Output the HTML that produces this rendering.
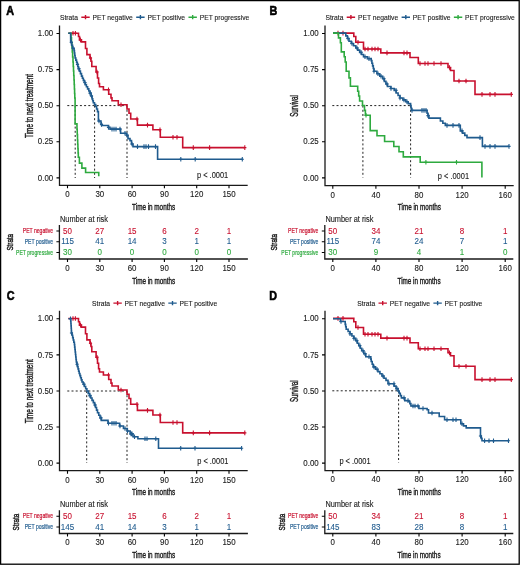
<!DOCTYPE html><html><head><meta charset="utf-8"><style>html,body{margin:0;padding:0;background:#fff}svg{display:block;will-change:transform}text{font-family:"Liberation Sans",sans-serif}</style></head><body>
<svg width="520" height="565" viewBox="0 0 520 565">
<rect x="0" y="0" width="520" height="565" fill="#fff"/>
<text x="0" y="0" font-size="10.8" text-anchor="middle" fill="#000" font-weight="bold" stroke="#000" stroke-width="0.5" transform="translate(10.2 10.75) scale(1 1.13)" dominant-baseline="central">A</text>
<text x="0" y="0" font-size="10.8" text-anchor="middle" fill="#000" font-weight="bold" stroke="#000" stroke-width="0.5" transform="translate(273.5 10.65) scale(1 1.13)" dominant-baseline="central">B</text>
<text x="0" y="0" font-size="10.8" text-anchor="middle" fill="#000" font-weight="bold" stroke="#000" stroke-width="0.5" transform="translate(10.75 295.75) scale(1 1.13)" dominant-baseline="central">C</text>
<text x="0" y="0" font-size="10.8" text-anchor="middle" fill="#000" font-weight="bold" stroke="#000" stroke-width="0.5" transform="translate(273.25 295.75) scale(1 1.13)" dominant-baseline="central">D</text>
<path d="M67.3,105.6H127M75.2,105.6V178M94.6,105.6V178M127,105.6V178" fill="none" stroke="#222" stroke-width="1" stroke-dasharray="2,2.2"/>
<path d="M59.5,25.5V185.3H247.7" fill="none" stroke="#1a1a1a" stroke-width="1.3"/>
<text x="0" y="0" font-size="7.9" text-anchor="end" fill="#1a1a1a" font-weight="normal" stroke="#1a1a1a" stroke-width="0.1" transform="translate(53.2 33.0) scale(1 1.13)" dominant-baseline="central">1.00</text>
<text x="0" y="0" font-size="7.9" text-anchor="end" fill="#1a1a1a" font-weight="normal" stroke="#1a1a1a" stroke-width="0.1" transform="translate(53.2 69.1) scale(1 1.13)" dominant-baseline="central">0.75</text>
<text x="0" y="0" font-size="7.9" text-anchor="end" fill="#1a1a1a" font-weight="normal" stroke="#1a1a1a" stroke-width="0.1" transform="translate(53.2 105.2) scale(1 1.13)" dominant-baseline="central">0.50</text>
<text x="0" y="0" font-size="7.9" text-anchor="end" fill="#1a1a1a" font-weight="normal" stroke="#1a1a1a" stroke-width="0.1" transform="translate(53.2 141.3) scale(1 1.13)" dominant-baseline="central">0.25</text>
<text x="0" y="0" font-size="7.9" text-anchor="end" fill="#1a1a1a" font-weight="normal" stroke="#1a1a1a" stroke-width="0.1" transform="translate(53.2 177.4) scale(1 1.13)" dominant-baseline="central">0.00</text>
<text x="0" y="0" font-size="7.9" text-anchor="middle" fill="#1a1a1a" font-weight="normal" stroke="#1a1a1a" stroke-width="0.1" transform="translate(67.5 194.0) scale(1 1.13)" dominant-baseline="central">0</text>
<text x="0" y="0" font-size="7.9" text-anchor="middle" fill="#1a1a1a" font-weight="normal" stroke="#1a1a1a" stroke-width="0.1" transform="translate(99.8 194.0) scale(1 1.13)" dominant-baseline="central">30</text>
<text x="0" y="0" font-size="7.9" text-anchor="middle" fill="#1a1a1a" font-weight="normal" stroke="#1a1a1a" stroke-width="0.1" transform="translate(132.1 194.0) scale(1 1.13)" dominant-baseline="central">60</text>
<text x="0" y="0" font-size="7.9" text-anchor="middle" fill="#1a1a1a" font-weight="normal" stroke="#1a1a1a" stroke-width="0.1" transform="translate(164.4 194.0) scale(1 1.13)" dominant-baseline="central">90</text>
<text x="0" y="0" font-size="7.9" text-anchor="middle" fill="#1a1a1a" font-weight="normal" stroke="#1a1a1a" stroke-width="0.1" transform="translate(196.7 194.0) scale(1 1.13)" dominant-baseline="central">120</text>
<text x="0" y="0" font-size="7.9" text-anchor="middle" fill="#1a1a1a" font-weight="normal" stroke="#1a1a1a" stroke-width="0.1" transform="translate(229.0 194.0) scale(1 1.13)" dominant-baseline="central">150</text>
<path d="M56.5,33.5H59.5M56.5,69.6H59.5M56.5,105.7H59.5M56.5,141.8H59.5M56.5,177.9H59.5M67.50,185.3v3M99.80,185.3v3M132.10,185.3v3M164.40,185.3v3M196.70,185.3v3M229.00,185.3v3" fill="none" stroke="#000" stroke-width="1.1"/>
<text x="153.6" y="206" font-size="9.5" text-anchor="middle" fill="#1a1a1a" font-weight="normal" stroke="#1a1a1a" stroke-width="0.4" textLength="43" lengthAdjust="spacingAndGlyphs" dominant-baseline="central">Time in months</text>
<text x="29.0" y="106" font-size="10.2" text-anchor="middle" fill="#1a1a1a" font-weight="normal" stroke="#1a1a1a" stroke-width="0.4" textLength="64" lengthAdjust="spacingAndGlyphs" transform="rotate(-90 29.0 106)" dominant-baseline="central">Time to next treatment</text>
<text x="0" y="0" font-size="6.75" text-anchor="start" fill="#1a1a1a" font-weight="normal" stroke="#1a1a1a" stroke-width="0.1" transform="translate(60 17.2) scale(1 1.13)" dominant-baseline="central">Strata</text>
<path d="M81.31,17.2h8.4M85.51,15.1v4.2" stroke="#C8102E" stroke-width="1.4" fill="none"/>
<text x="0" y="0" font-size="6.75" text-anchor="start" fill="#1a1a1a" font-weight="normal" stroke="#1a1a1a" stroke-width="0.1" transform="translate(92.51 17.2) scale(1 1.13)" dominant-baseline="central">PET negative</text>
<path d="M136.21,17.2h8.4M140.41,15.1v4.2" stroke="#1F5B8E" stroke-width="1.4" fill="none"/>
<text x="0" y="0" font-size="6.75" text-anchor="start" fill="#1a1a1a" font-weight="normal" stroke="#1a1a1a" stroke-width="0.1" transform="translate(147.41 17.2) scale(1 1.13)" dominant-baseline="central">PET positive</text>
<path d="M188.47,17.2h8.4M192.67,15.1v4.2" stroke="#2EAA3F" stroke-width="1.4" fill="none"/>
<text x="0" y="0" font-size="6.75" text-anchor="start" fill="#1a1a1a" font-weight="normal" stroke="#1a1a1a" stroke-width="0.1" transform="translate(199.67 17.2) scale(1 1.13)" dominant-baseline="central">PET progressive</text>
<path d="M68.30,33.30 L78.50,33.30 L78.50,36.50 L79.50,36.50 L79.50,39.90 L81.40,39.90 L81.40,41.90 L85.50,41.90 L85.50,48.50 L86.90,48.50 L86.90,54.60 L90.00,54.60 L90.00,58.00 L91.00,58.00 L91.00,61.20 L91.80,61.20 L91.80,66.50 L96.10,66.50 L96.10,72.00 L97.50,72.00 L97.50,78.00 L98.60,78.00 L98.60,83.50 L99.50,83.50 L99.50,86.80 L103.40,86.80 L103.40,89.70 L108.70,89.70 L108.70,94.20 L111.00,94.20 L111.00,97.90 L112.00,97.90 L112.00,100.80 L118.30,100.80 L118.30,104.80 L127.00,104.80 L127.00,109.00 L129.00,109.00 L129.00,113.20 L130.70,113.20 L130.70,119.00 L137.40,119.00 L137.40,125.10 L152.90,125.10 L152.90,129.80 L160.30,129.80 L160.30,137.20 L182.70,137.20 L182.70,147.60 L244.80,147.60" fill="none" stroke="#C8102E" stroke-width="1.6" stroke-linejoin="miter" stroke-miterlimit="2"/>
<path d="M73.00,31.00v4.6M71.40,33.30h3.2M75.40,31.00v4.6M73.80,33.30h3.2M80.50,37.60v4.6M78.90,39.90h3.2M90.50,55.70v4.6M88.90,58.00h3.2M97.00,69.70v4.6M95.40,72.00h3.2M108.50,87.40v4.6M106.90,89.70h3.2M121.00,102.50v4.6M119.40,104.80h3.2M137.00,116.70v4.6M135.40,119.00h3.2M147.50,122.80v4.6M145.90,125.10h3.2M160.00,127.50v4.6M158.40,129.80h3.2M173.00,134.90v4.6M171.40,137.20h3.2M177.00,134.90v4.6M175.40,137.20h3.2M193.30,145.30v4.6M191.70,147.60h3.2M209.60,145.30v4.6M208.00,147.60h3.2M244.80,145.30v4.6M243.20,147.60h3.2" fill="none" stroke="#C8102E" stroke-width="1.1"/>
<path d="M68.30,33.30 L70.60,33.30 L71.03,33.30 L71.03,37.87 L71.47,37.87 L71.47,42.43 L71.90,42.43 L71.90,47.00 L72.27,47.00 L72.27,52.00 L72.63,52.00 L72.63,57.00 L73.00,57.00 L73.00,62.00 L73.25,62.00 L73.25,66.50 L73.50,66.50 L73.50,71.00 L73.75,71.00 L73.75,75.50 L74.00,75.50 L74.00,80.00 L74.20,80.00 L74.20,84.50 L74.40,84.50 L74.40,89.00 L74.60,89.00 L74.60,93.50 L74.80,93.50 L74.80,98.00 L75.10,98.00 L75.10,105.00 L75.10,123.90 L76.70,123.90 L76.97,123.90 L76.97,129.27 L77.23,129.27 L77.23,134.63 L77.50,134.63 L77.50,140.00 L77.70,140.00 L77.70,144.32 L77.90,144.32 L77.90,148.65 L78.10,148.65 L78.10,152.98 L78.30,152.98 L78.30,157.30 L79.40,157.30 L79.40,163.10 L81.90,163.10 L81.90,168.10 L85.60,168.10 L85.60,172.50 L98.75,172.50 L98.75,172.50 L98.75,176.30" fill="none" stroke="#2EAA3F" stroke-width="1.6" stroke-linejoin="miter" stroke-miterlimit="2"/>
<path d="M68.30,33.30 L70.60,33.30 L70.62,33.30 L70.62,35.57 L70.65,35.57 L70.65,37.85 L70.67,37.85 L70.67,40.12 L70.70,40.12 L70.70,42.40 L71.65,42.40 L71.65,45.30 L72.60,45.30 L72.60,48.20 L74.10,48.20 L74.10,50.60 L74.43,50.60 L74.43,53.07 L74.77,53.07 L74.77,55.53 L75.10,55.53 L75.10,58.00 L75.83,58.00 L75.83,60.13 L76.57,60.13 L76.57,62.27 L77.30,62.27 L77.30,64.40 L77.80,64.40 L77.80,66.55 L78.30,66.55 L78.30,68.70 L79.37,68.70 L79.37,71.17 L80.43,71.17 L80.43,73.63 L81.50,73.63 L81.50,76.10 L82.42,76.10 L82.42,78.22 L83.35,78.22 L83.35,80.35 L84.28,80.35 L84.28,82.47 L85.20,82.47 L85.20,84.60 L86.40,84.60 L86.40,86.72 L87.60,86.72 L87.60,88.85 L88.80,88.85 L88.80,90.97 L90.00,90.97 L90.00,93.10 L91.05,93.10 L91.05,96.00 L92.10,96.00 L92.10,98.90 L92.70,98.90 L92.70,100.80 L93.30,100.80 L93.30,102.70 L94.50,102.70 L94.50,104.60 L95.70,104.60 L95.70,106.50 L96.60,106.50 L96.60,109.07 L97.50,109.07 L97.50,111.63 L98.40,111.63 L98.40,114.20 L98.40,121.00 L101.00,121.00 L101.00,124.40 L101.70,124.40 L101.70,125.50 L108.50,125.50 L108.50,127.40 L110.00,127.40 L110.00,129.10 L120.60,129.10 L120.60,133.20 L126.60,133.20 L126.60,135.20 L128.00,135.20 L128.00,138.60 L130.00,138.60 L130.00,140.60 L131.50,140.60 L131.50,144.00 L133.00,144.00 L133.00,146.60 L157.60,146.60 L157.60,159.30 L242.30,159.30" fill="none" stroke="#1F5B8E" stroke-width="1.6" stroke-linejoin="miter" stroke-miterlimit="2"/>
<path d="M71.40,40.10v4.6M69.80,42.40h3.2M73.00,45.90v4.6M71.40,48.20h3.2M77.50,62.10v4.6M75.90,64.40h3.2M79.00,66.40v4.6M77.40,68.70h3.2M85.00,80.17v4.6M83.40,82.47h3.2M90.00,90.80v4.6M88.40,93.10h3.2M91.50,93.70v4.6M89.90,96.00h3.2M99.00,118.70v4.6M97.40,121.00h3.2M101.50,122.10v4.6M99.90,124.40h3.2M108.50,125.10v4.6M106.90,127.40h3.2M112.00,126.80v4.6M110.40,129.10h3.2M114.00,126.80v4.6M112.40,129.10h3.2M116.00,126.80v4.6M114.40,129.10h3.2M120.00,126.80v4.6M118.40,129.10h3.2M125.00,130.90v4.6M123.40,133.20h3.2M127.00,132.90v4.6M125.40,135.20h3.2M132.00,141.70v4.6M130.40,144.00h3.2M137.50,144.30v4.6M135.90,146.60h3.2M144.00,144.30v4.6M142.40,146.60h3.2M146.00,144.30v4.6M144.40,146.60h3.2M148.50,144.30v4.6M146.90,146.60h3.2M155.50,144.30v4.6M153.90,146.60h3.2M180.80,157.00v4.6M179.20,159.30h3.2M195.20,157.00v4.6M193.60,159.30h3.2M242.30,157.00v4.6M240.70,159.30h3.2" fill="none" stroke="#1F5B8E" stroke-width="1.1"/>
<text x="0" y="0" font-size="7.45" text-anchor="middle" fill="#1a1a1a" font-weight="normal" stroke="#1a1a1a" stroke-width="0.1" transform="translate(212.6 175.8) scale(1 1.13)" dominant-baseline="central">p &lt; .0001</text>
<text x="0" y="0" font-size="7.4" text-anchor="start" fill="#1a1a1a" font-weight="normal" stroke="#1a1a1a" stroke-width="0.1" transform="translate(60.0 219.3) scale(1 1.13)" dominant-baseline="central">Number at risk</text>
<text x="53.1" y="230.7" font-size="7.7" text-anchor="end" fill="#C8102E" font-weight="normal" stroke="#C8102E" stroke-width="0.22" textLength="30.3" lengthAdjust="spacingAndGlyphs" dominant-baseline="central">PET negative</text>
<text x="0" y="0" font-size="8.0" text-anchor="middle" fill="#C8102E" font-weight="normal" stroke="#C8102E" stroke-width="0.1" transform="translate(67.5 230.5) scale(1 1.13)" dominant-baseline="central">50</text>
<text x="0" y="0" font-size="8.0" text-anchor="middle" fill="#C8102E" font-weight="normal" stroke="#C8102E" stroke-width="0.1" transform="translate(99.8 230.5) scale(1 1.13)" dominant-baseline="central">27</text>
<text x="0" y="0" font-size="8.0" text-anchor="middle" fill="#C8102E" font-weight="normal" stroke="#C8102E" stroke-width="0.1" transform="translate(132.1 230.5) scale(1 1.13)" dominant-baseline="central">15</text>
<text x="0" y="0" font-size="8.0" text-anchor="middle" fill="#C8102E" font-weight="normal" stroke="#C8102E" stroke-width="0.1" transform="translate(164.4 230.5) scale(1 1.13)" dominant-baseline="central">6</text>
<text x="0" y="0" font-size="8.0" text-anchor="middle" fill="#C8102E" font-weight="normal" stroke="#C8102E" stroke-width="0.1" transform="translate(196.7 230.5) scale(1 1.13)" dominant-baseline="central">2</text>
<text x="0" y="0" font-size="8.0" text-anchor="middle" fill="#C8102E" font-weight="normal" stroke="#C8102E" stroke-width="0.1" transform="translate(229.0 230.5) scale(1 1.13)" dominant-baseline="central">1</text>
<text x="53.1" y="241.45" font-size="7.7" text-anchor="end" fill="#1F5B8E" font-weight="normal" stroke="#1F5B8E" stroke-width="0.22" textLength="28.4" lengthAdjust="spacingAndGlyphs" dominant-baseline="central">PET positive</text>
<text x="0" y="0" font-size="8.0" text-anchor="middle" fill="#1F5B8E" font-weight="normal" stroke="#1F5B8E" stroke-width="0.1" transform="translate(67.5 241.25) scale(1 1.13)" dominant-baseline="central">115</text>
<text x="0" y="0" font-size="8.0" text-anchor="middle" fill="#1F5B8E" font-weight="normal" stroke="#1F5B8E" stroke-width="0.1" transform="translate(99.8 241.25) scale(1 1.13)" dominant-baseline="central">41</text>
<text x="0" y="0" font-size="8.0" text-anchor="middle" fill="#1F5B8E" font-weight="normal" stroke="#1F5B8E" stroke-width="0.1" transform="translate(132.1 241.25) scale(1 1.13)" dominant-baseline="central">14</text>
<text x="0" y="0" font-size="8.0" text-anchor="middle" fill="#1F5B8E" font-weight="normal" stroke="#1F5B8E" stroke-width="0.1" transform="translate(164.4 241.25) scale(1 1.13)" dominant-baseline="central">3</text>
<text x="0" y="0" font-size="8.0" text-anchor="middle" fill="#1F5B8E" font-weight="normal" stroke="#1F5B8E" stroke-width="0.1" transform="translate(196.7 241.25) scale(1 1.13)" dominant-baseline="central">1</text>
<text x="0" y="0" font-size="8.0" text-anchor="middle" fill="#1F5B8E" font-weight="normal" stroke="#1F5B8E" stroke-width="0.1" transform="translate(229.0 241.25) scale(1 1.13)" dominant-baseline="central">1</text>
<text x="53.1" y="252.2" font-size="7.7" text-anchor="end" fill="#2EAA3F" font-weight="normal" stroke="#2EAA3F" stroke-width="0.22" textLength="37" lengthAdjust="spacingAndGlyphs" dominant-baseline="central">PET progressive</text>
<text x="0" y="0" font-size="8.0" text-anchor="middle" fill="#2EAA3F" font-weight="normal" stroke="#2EAA3F" stroke-width="0.1" transform="translate(67.5 252.0) scale(1 1.13)" dominant-baseline="central">30</text>
<text x="0" y="0" font-size="8.0" text-anchor="middle" fill="#2EAA3F" font-weight="normal" stroke="#2EAA3F" stroke-width="0.1" transform="translate(99.8 252.0) scale(1 1.13)" dominant-baseline="central">0</text>
<text x="0" y="0" font-size="8.0" text-anchor="middle" fill="#2EAA3F" font-weight="normal" stroke="#2EAA3F" stroke-width="0.1" transform="translate(132.1 252.0) scale(1 1.13)" dominant-baseline="central">0</text>
<text x="0" y="0" font-size="8.0" text-anchor="middle" fill="#2EAA3F" font-weight="normal" stroke="#2EAA3F" stroke-width="0.1" transform="translate(164.4 252.0) scale(1 1.13)" dominant-baseline="central">0</text>
<text x="0" y="0" font-size="8.0" text-anchor="middle" fill="#2EAA3F" font-weight="normal" stroke="#2EAA3F" stroke-width="0.1" transform="translate(196.7 252.0) scale(1 1.13)" dominant-baseline="central">0</text>
<text x="0" y="0" font-size="8.0" text-anchor="middle" fill="#2EAA3F" font-weight="normal" stroke="#2EAA3F" stroke-width="0.1" transform="translate(229.0 252.0) scale(1 1.13)" dominant-baseline="central">0</text>
<text x="0" y="0" font-size="7.9" text-anchor="middle" fill="#1a1a1a" font-weight="normal" stroke="#1a1a1a" stroke-width="0.1" transform="translate(67.5 267.7) scale(1 1.13)" dominant-baseline="central">0</text>
<text x="0" y="0" font-size="7.9" text-anchor="middle" fill="#1a1a1a" font-weight="normal" stroke="#1a1a1a" stroke-width="0.1" transform="translate(99.8 267.7) scale(1 1.13)" dominant-baseline="central">30</text>
<text x="0" y="0" font-size="7.9" text-anchor="middle" fill="#1a1a1a" font-weight="normal" stroke="#1a1a1a" stroke-width="0.1" transform="translate(132.1 267.7) scale(1 1.13)" dominant-baseline="central">60</text>
<text x="0" y="0" font-size="7.9" text-anchor="middle" fill="#1a1a1a" font-weight="normal" stroke="#1a1a1a" stroke-width="0.1" transform="translate(164.4 267.7) scale(1 1.13)" dominant-baseline="central">90</text>
<text x="0" y="0" font-size="7.9" text-anchor="middle" fill="#1a1a1a" font-weight="normal" stroke="#1a1a1a" stroke-width="0.1" transform="translate(196.7 267.7) scale(1 1.13)" dominant-baseline="central">120</text>
<text x="0" y="0" font-size="7.9" text-anchor="middle" fill="#1a1a1a" font-weight="normal" stroke="#1a1a1a" stroke-width="0.1" transform="translate(229.0 267.7) scale(1 1.13)" dominant-baseline="central">150</text>
<path d="M59.4,224.9V259.0H247.9" fill="none" stroke="#1a1a1a" stroke-width="1.3"/>
<path d="M56.4,231.0H59.4M56.4,241.75H59.4M56.4,252.5H59.4M67.50,259.0v3M99.80,259.0v3M132.10,259.0v3M164.40,259.0v3M196.70,259.0v3M229.00,259.0v3" fill="none" stroke="#000" stroke-width="1.1"/>
<text x="153.65" y="280.0" font-size="9.5" text-anchor="middle" fill="#1a1a1a" font-weight="normal" stroke="#1a1a1a" stroke-width="0.4" textLength="43" lengthAdjust="spacingAndGlyphs" dominant-baseline="central">Time in months</text>
<text x="9.899999999999999" y="242.25" font-size="9.9" text-anchor="middle" fill="#1a1a1a" font-weight="normal" stroke="#1a1a1a" stroke-width="0.45" textLength="16.7" lengthAdjust="spacingAndGlyphs" transform="rotate(-90 9.899999999999999 242.25)" dominant-baseline="central">Strata</text>
<path d="M332.3,105.6H410.6M362.9,105.6V177.5M410.6,105.6V177.5" fill="none" stroke="#222" stroke-width="1" stroke-dasharray="2,2.2"/>
<path d="M325.0,25.5V185.7H513.7" fill="none" stroke="#1a1a1a" stroke-width="1.3"/>
<text x="0" y="0" font-size="7.9" text-anchor="end" fill="#1a1a1a" font-weight="normal" stroke="#1a1a1a" stroke-width="0.1" transform="translate(318.7 33.0) scale(1 1.13)" dominant-baseline="central">1.00</text>
<text x="0" y="0" font-size="7.9" text-anchor="end" fill="#1a1a1a" font-weight="normal" stroke="#1a1a1a" stroke-width="0.1" transform="translate(318.7 69.1) scale(1 1.13)" dominant-baseline="central">0.75</text>
<text x="0" y="0" font-size="7.9" text-anchor="end" fill="#1a1a1a" font-weight="normal" stroke="#1a1a1a" stroke-width="0.1" transform="translate(318.7 105.2) scale(1 1.13)" dominant-baseline="central">0.50</text>
<text x="0" y="0" font-size="7.9" text-anchor="end" fill="#1a1a1a" font-weight="normal" stroke="#1a1a1a" stroke-width="0.1" transform="translate(318.7 141.3) scale(1 1.13)" dominant-baseline="central">0.25</text>
<text x="0" y="0" font-size="7.9" text-anchor="end" fill="#1a1a1a" font-weight="normal" stroke="#1a1a1a" stroke-width="0.1" transform="translate(318.7 177.4) scale(1 1.13)" dominant-baseline="central">0.00</text>
<text x="0" y="0" font-size="7.9" text-anchor="middle" fill="#1a1a1a" font-weight="normal" stroke="#1a1a1a" stroke-width="0.1" transform="translate(332.8 194.39999999999998) scale(1 1.13)" dominant-baseline="central">0</text>
<text x="0" y="0" font-size="7.9" text-anchor="middle" fill="#1a1a1a" font-weight="normal" stroke="#1a1a1a" stroke-width="0.1" transform="translate(375.9 194.39999999999998) scale(1 1.13)" dominant-baseline="central">40</text>
<text x="0" y="0" font-size="7.9" text-anchor="middle" fill="#1a1a1a" font-weight="normal" stroke="#1a1a1a" stroke-width="0.1" transform="translate(419.0 194.39999999999998) scale(1 1.13)" dominant-baseline="central">80</text>
<text x="0" y="0" font-size="7.9" text-anchor="middle" fill="#1a1a1a" font-weight="normal" stroke="#1a1a1a" stroke-width="0.1" transform="translate(462.1 194.39999999999998) scale(1 1.13)" dominant-baseline="central">120</text>
<text x="0" y="0" font-size="7.9" text-anchor="middle" fill="#1a1a1a" font-weight="normal" stroke="#1a1a1a" stroke-width="0.1" transform="translate(505.2 194.39999999999998) scale(1 1.13)" dominant-baseline="central">160</text>
<path d="M322.0,33.5H325.0M322.0,69.6H325.0M322.0,105.7H325.0M322.0,141.8H325.0M322.0,177.9H325.0M332.80,185.7v3M375.90,185.7v3M419.00,185.7v3M462.10,185.7v3M505.20,185.7v3" fill="none" stroke="#000" stroke-width="1.1"/>
<text x="419.35" y="206" font-size="9.5" text-anchor="middle" fill="#1a1a1a" font-weight="normal" stroke="#1a1a1a" stroke-width="0.4" textLength="43" lengthAdjust="spacingAndGlyphs" dominant-baseline="central">Time in months</text>
<text x="294.5" y="106" font-size="10.2" text-anchor="middle" fill="#1a1a1a" font-weight="normal" stroke="#1a1a1a" stroke-width="0.4" textLength="21.7" lengthAdjust="spacingAndGlyphs" transform="rotate(-90 294.5 106)" dominant-baseline="central">Survival</text>
<text x="0" y="0" font-size="6.75" text-anchor="start" fill="#1a1a1a" font-weight="normal" stroke="#1a1a1a" stroke-width="0.1" transform="translate(325.4 17.2) scale(1 1.13)" dominant-baseline="central">Strata</text>
<path d="M346.71,17.2h8.4M350.91,15.1v4.2" stroke="#C8102E" stroke-width="1.4" fill="none"/>
<text x="0" y="0" font-size="6.75" text-anchor="start" fill="#1a1a1a" font-weight="normal" stroke="#1a1a1a" stroke-width="0.1" transform="translate(357.91 17.2) scale(1 1.13)" dominant-baseline="central">PET negative</text>
<path d="M401.61,17.2h8.4M405.81,15.1v4.2" stroke="#1F5B8E" stroke-width="1.4" fill="none"/>
<text x="0" y="0" font-size="6.75" text-anchor="start" fill="#1a1a1a" font-weight="normal" stroke="#1a1a1a" stroke-width="0.1" transform="translate(412.81 17.2) scale(1 1.13)" dominant-baseline="central">PET positive</text>
<path d="M453.87,17.2h8.4M458.07,15.1v4.2" stroke="#2EAA3F" stroke-width="1.4" fill="none"/>
<text x="0" y="0" font-size="6.75" text-anchor="start" fill="#1a1a1a" font-weight="normal" stroke="#1a1a1a" stroke-width="0.1" transform="translate(465.07 17.2) scale(1 1.13)" dominant-baseline="central">PET progressive</text>
<path d="M333.00,33.10 L353.80,33.10 L353.80,36.50 L355.80,36.50 L355.80,42.30 L363.50,42.30 L363.50,49.00 L380.80,49.00 L380.80,52.90 L410.00,52.90 L410.00,57.50 L418.30,57.50 L418.30,63.50 L448.00,63.50 L448.00,67.50 L450.50,67.50 L450.50,70.50 L454.00,70.50 L454.00,81.00 L475.00,81.00 L475.00,94.40 L511.30,94.40" fill="none" stroke="#C8102E" stroke-width="1.6" stroke-linejoin="miter" stroke-miterlimit="2"/>
<path d="M338.00,30.80v4.6M336.40,33.10h3.2M343.00,30.80v4.6M341.40,33.10h3.2M358.00,40.00v4.6M356.40,42.30h3.2M365.00,46.70v4.6M363.40,49.00h3.2M368.00,46.70v4.6M366.40,49.00h3.2M372.00,46.70v4.6M370.40,49.00h3.2M375.00,46.70v4.6M373.40,49.00h3.2M378.00,46.70v4.6M376.40,49.00h3.2M387.00,50.60v4.6M385.40,52.90h3.2M404.00,50.60v4.6M402.40,52.90h3.2M407.00,50.60v4.6M405.40,52.90h3.2M420.00,61.20v4.6M418.40,63.50h3.2M425.00,61.20v4.6M423.40,63.50h3.2M428.00,61.20v4.6M426.40,63.50h3.2M434.00,61.20v4.6M432.40,63.50h3.2M441.00,61.20v4.6M439.40,63.50h3.2M449.50,65.20v4.6M447.90,67.50h3.2M459.00,78.70v4.6M457.40,81.00h3.2M466.00,78.70v4.6M464.40,81.00h3.2M482.00,92.10v4.6M480.40,94.40h3.2M490.00,92.10v4.6M488.40,94.40h3.2M495.00,92.10v4.6M493.40,94.40h3.2M511.30,92.10v4.6M509.70,94.40h3.2" fill="none" stroke="#C8102E" stroke-width="1.1"/>
<path d="M333.00,33.10 L344.20,33.10 L345.80,33.10 L345.80,35.83 L347.40,35.83 L347.40,38.57 L349.00,38.57 L349.00,41.30 L351.27,41.30 L351.27,43.53 L353.53,43.53 L353.53,45.77 L355.80,45.77 L355.80,48.00 L357.73,48.00 L357.73,50.17 L359.65,50.17 L359.65,52.35 L361.57,52.35 L361.57,54.53 L363.50,54.53 L363.50,56.70 L367.35,56.70 L367.35,58.65 L371.20,58.65 L371.20,60.60 L371.90,60.60 L371.90,63.25 L372.60,63.25 L372.60,65.90 L373.30,65.90 L373.30,68.55 L374.00,68.55 L374.00,71.20 L376.90,71.20 L376.90,73.73 L379.80,73.73 L379.80,76.27 L382.70,76.27 L382.70,78.80 L384.30,78.80 L384.30,81.37 L385.90,81.37 L385.90,83.93 L387.50,83.93 L387.50,86.50 L390.85,86.50 L390.85,88.45 L394.20,88.45 L394.20,90.40 L396.13,90.40 L396.13,92.93 L398.07,92.93 L398.07,95.47 L400.00,95.47 L400.00,98.00 L402.90,98.00 L402.90,99.85 L405.80,99.85 L405.80,101.70 L408.20,101.70 L408.20,103.65 L410.60,103.65 L410.60,105.60 L411.05,105.60 L411.05,108.00 L411.50,108.00 L411.50,110.40 L427.10,110.40 L427.10,113.20 L428.00,113.20 L428.00,115.65 L428.90,115.65 L428.90,118.10 L440.40,118.10 L440.40,121.00 L442.85,121.00 L442.85,123.20 L445.30,123.20 L445.30,125.40 L460.30,125.40 L460.30,130.90 L462.53,130.90 L462.53,133.13 L464.77,133.13 L464.77,135.37 L467.00,135.37 L467.00,137.60 L482.40,137.60 L482.40,146.40 L509.00,146.40" fill="none" stroke="#1F5B8E" stroke-width="1.6" stroke-linejoin="miter" stroke-miterlimit="2"/>
<path d="M348.00,36.27v4.6M346.40,38.57h3.2M352.00,41.23v4.6M350.40,43.53h3.2M357.00,45.70v4.6M355.40,48.00h3.2M361.00,50.05v4.6M359.40,52.35h3.2M365.00,54.40v4.6M363.40,56.70h3.2M369.00,56.35v4.6M367.40,58.65h3.2M374.00,68.90v4.6M372.40,71.20h3.2M378.00,71.43v4.6M376.40,73.73h3.2M381.00,73.97v4.6M379.40,76.27h3.2M384.00,76.50v4.6M382.40,78.80h3.2M387.00,81.63v4.6M385.40,83.93h3.2M391.00,86.15v4.6M389.40,88.45h3.2M396.00,88.10v4.6M394.40,90.40h3.2M400.00,95.70v4.6M398.40,98.00h3.2M404.00,97.55v4.6M402.40,99.85h3.2M407.00,99.40v4.6M405.40,101.70h3.2M412.00,108.10v4.6M410.40,110.40h3.2M422.00,108.10v4.6M420.40,110.40h3.2M424.00,108.10v4.6M422.40,110.40h3.2M426.00,108.10v4.6M424.40,110.40h3.2M428.00,113.35v4.6M426.40,115.65h3.2M447.00,123.10v4.6M445.40,125.40h3.2M453.00,123.10v4.6M451.40,125.40h3.2M459.00,123.10v4.6M457.40,125.40h3.2M462.00,128.60v4.6M460.40,130.90h3.2M480.00,135.30v4.6M478.40,137.60h3.2M485.00,144.10v4.6M483.40,146.40h3.2M490.00,144.10v4.6M488.40,146.40h3.2M495.00,144.10v4.6M493.40,146.40h3.2M509.00,144.10v4.6M507.40,146.40h3.2" fill="none" stroke="#1F5B8E" stroke-width="1.1"/>
<path d="M333.00,33.10 L338.50,33.10 L338.50,37.90 L340.40,37.90 L340.40,42.70 L341.30,42.70 L341.30,51.90 L344.20,51.90 L344.20,56.70 L345.20,56.70 L345.20,62.00 L346.20,62.00 L346.20,71.20 L349.00,71.20 L349.00,77.90 L350.40,77.90 L350.40,86.20 L357.70,86.20 L357.70,91.30 L358.70,91.30 L358.70,96.00 L359.60,96.00 L359.60,101.00 L362.50,101.00 L362.50,105.50 L364.50,105.50 L364.50,110.40 L365.40,110.40 L365.40,115.20 L370.20,115.20 L370.20,130.60 L377.00,130.60 L377.00,135.80 L384.60,135.80 L384.60,141.50 L393.80,141.50 L393.80,146.50 L399.00,146.50 L399.00,151.70 L403.30,151.70 L403.30,156.90 L420.20,156.90 L420.20,162.30 L481.90,162.30 L481.90,177.50" fill="none" stroke="#2EAA3F" stroke-width="1.6" stroke-linejoin="miter" stroke-miterlimit="2"/>
<path d="M366.00,112.90v4.6M364.40,115.20h3.2M425.90,160.00v4.6M424.30,162.30h3.2M456.50,160.00v4.6M454.90,162.30h3.2" fill="none" stroke="#2EAA3F" stroke-width="1.1"/>
<text x="0" y="0" font-size="7.45" text-anchor="middle" fill="#1a1a1a" font-weight="normal" stroke="#1a1a1a" stroke-width="0.1" transform="translate(453.4 175.9) scale(1 1.13)" dominant-baseline="central">p &lt; .0001</text>
<text x="0" y="0" font-size="7.4" text-anchor="start" fill="#1a1a1a" font-weight="normal" stroke="#1a1a1a" stroke-width="0.1" transform="translate(325.40000000000003 219.3) scale(1 1.13)" dominant-baseline="central">Number at risk</text>
<text x="318.3" y="230.7" font-size="7.7" text-anchor="end" fill="#C8102E" font-weight="normal" stroke="#C8102E" stroke-width="0.22" textLength="30.3" lengthAdjust="spacingAndGlyphs" dominant-baseline="central">PET negative</text>
<text x="0" y="0" font-size="8.0" text-anchor="middle" fill="#C8102E" font-weight="normal" stroke="#C8102E" stroke-width="0.1" transform="translate(332.8 230.5) scale(1 1.13)" dominant-baseline="central">50</text>
<text x="0" y="0" font-size="8.0" text-anchor="middle" fill="#C8102E" font-weight="normal" stroke="#C8102E" stroke-width="0.1" transform="translate(375.9 230.5) scale(1 1.13)" dominant-baseline="central">34</text>
<text x="0" y="0" font-size="8.0" text-anchor="middle" fill="#C8102E" font-weight="normal" stroke="#C8102E" stroke-width="0.1" transform="translate(419.0 230.5) scale(1 1.13)" dominant-baseline="central">21</text>
<text x="0" y="0" font-size="8.0" text-anchor="middle" fill="#C8102E" font-weight="normal" stroke="#C8102E" stroke-width="0.1" transform="translate(462.1 230.5) scale(1 1.13)" dominant-baseline="central">8</text>
<text x="0" y="0" font-size="8.0" text-anchor="middle" fill="#C8102E" font-weight="normal" stroke="#C8102E" stroke-width="0.1" transform="translate(505.2 230.5) scale(1 1.13)" dominant-baseline="central">1</text>
<text x="318.3" y="241.45" font-size="7.7" text-anchor="end" fill="#1F5B8E" font-weight="normal" stroke="#1F5B8E" stroke-width="0.22" textLength="28.4" lengthAdjust="spacingAndGlyphs" dominant-baseline="central">PET positive</text>
<text x="0" y="0" font-size="8.0" text-anchor="middle" fill="#1F5B8E" font-weight="normal" stroke="#1F5B8E" stroke-width="0.1" transform="translate(332.8 241.25) scale(1 1.13)" dominant-baseline="central">115</text>
<text x="0" y="0" font-size="8.0" text-anchor="middle" fill="#1F5B8E" font-weight="normal" stroke="#1F5B8E" stroke-width="0.1" transform="translate(375.9 241.25) scale(1 1.13)" dominant-baseline="central">74</text>
<text x="0" y="0" font-size="8.0" text-anchor="middle" fill="#1F5B8E" font-weight="normal" stroke="#1F5B8E" stroke-width="0.1" transform="translate(419.0 241.25) scale(1 1.13)" dominant-baseline="central">24</text>
<text x="0" y="0" font-size="8.0" text-anchor="middle" fill="#1F5B8E" font-weight="normal" stroke="#1F5B8E" stroke-width="0.1" transform="translate(462.1 241.25) scale(1 1.13)" dominant-baseline="central">7</text>
<text x="0" y="0" font-size="8.0" text-anchor="middle" fill="#1F5B8E" font-weight="normal" stroke="#1F5B8E" stroke-width="0.1" transform="translate(505.2 241.25) scale(1 1.13)" dominant-baseline="central">1</text>
<text x="318.3" y="252.2" font-size="7.7" text-anchor="end" fill="#2EAA3F" font-weight="normal" stroke="#2EAA3F" stroke-width="0.22" textLength="37" lengthAdjust="spacingAndGlyphs" dominant-baseline="central">PET progressive</text>
<text x="0" y="0" font-size="8.0" text-anchor="middle" fill="#2EAA3F" font-weight="normal" stroke="#2EAA3F" stroke-width="0.1" transform="translate(332.8 252.0) scale(1 1.13)" dominant-baseline="central">30</text>
<text x="0" y="0" font-size="8.0" text-anchor="middle" fill="#2EAA3F" font-weight="normal" stroke="#2EAA3F" stroke-width="0.1" transform="translate(375.9 252.0) scale(1 1.13)" dominant-baseline="central">9</text>
<text x="0" y="0" font-size="8.0" text-anchor="middle" fill="#2EAA3F" font-weight="normal" stroke="#2EAA3F" stroke-width="0.1" transform="translate(419.0 252.0) scale(1 1.13)" dominant-baseline="central">4</text>
<text x="0" y="0" font-size="8.0" text-anchor="middle" fill="#2EAA3F" font-weight="normal" stroke="#2EAA3F" stroke-width="0.1" transform="translate(462.1 252.0) scale(1 1.13)" dominant-baseline="central">1</text>
<text x="0" y="0" font-size="8.0" text-anchor="middle" fill="#2EAA3F" font-weight="normal" stroke="#2EAA3F" stroke-width="0.1" transform="translate(505.2 252.0) scale(1 1.13)" dominant-baseline="central">0</text>
<text x="0" y="0" font-size="7.9" text-anchor="middle" fill="#1a1a1a" font-weight="normal" stroke="#1a1a1a" stroke-width="0.1" transform="translate(332.8 267.7) scale(1 1.13)" dominant-baseline="central">0</text>
<text x="0" y="0" font-size="7.9" text-anchor="middle" fill="#1a1a1a" font-weight="normal" stroke="#1a1a1a" stroke-width="0.1" transform="translate(375.9 267.7) scale(1 1.13)" dominant-baseline="central">40</text>
<text x="0" y="0" font-size="7.9" text-anchor="middle" fill="#1a1a1a" font-weight="normal" stroke="#1a1a1a" stroke-width="0.1" transform="translate(419.0 267.7) scale(1 1.13)" dominant-baseline="central">80</text>
<text x="0" y="0" font-size="7.9" text-anchor="middle" fill="#1a1a1a" font-weight="normal" stroke="#1a1a1a" stroke-width="0.1" transform="translate(462.1 267.7) scale(1 1.13)" dominant-baseline="central">120</text>
<text x="0" y="0" font-size="7.9" text-anchor="middle" fill="#1a1a1a" font-weight="normal" stroke="#1a1a1a" stroke-width="0.1" transform="translate(505.2 267.7) scale(1 1.13)" dominant-baseline="central">160</text>
<path d="M324.8,224.9V259.0H513.3" fill="none" stroke="#1a1a1a" stroke-width="1.3"/>
<path d="M321.8,231.0H324.8M321.8,241.75H324.8M321.8,252.5H324.8M332.80,259.0v3M375.90,259.0v3M419.00,259.0v3M462.10,259.0v3M505.20,259.0v3" fill="none" stroke="#000" stroke-width="1.1"/>
<text x="419.05" y="280.0" font-size="9.5" text-anchor="middle" fill="#1a1a1a" font-weight="normal" stroke="#1a1a1a" stroke-width="0.4" textLength="43" lengthAdjust="spacingAndGlyphs" dominant-baseline="central">Time in months</text>
<text x="273.5" y="242.25" font-size="9.9" text-anchor="middle" fill="#1a1a1a" font-weight="normal" stroke="#1a1a1a" stroke-width="0.45" textLength="16.7" lengthAdjust="spacingAndGlyphs" transform="rotate(-90 273.5 242.25)" dominant-baseline="central">Strata</text>
<path d="M67.3,391H127M86.7,391V463M127,391V463" fill="none" stroke="#222" stroke-width="1" stroke-dasharray="2,2.2"/>
<path d="M59.5,310.75V470.65H247.7" fill="none" stroke="#1a1a1a" stroke-width="1.3"/>
<text x="0" y="0" font-size="7.9" text-anchor="end" fill="#1a1a1a" font-weight="normal" stroke="#1a1a1a" stroke-width="0.1" transform="translate(53.2 318.25) scale(1 1.13)" dominant-baseline="central">1.00</text>
<text x="0" y="0" font-size="7.9" text-anchor="end" fill="#1a1a1a" font-weight="normal" stroke="#1a1a1a" stroke-width="0.1" transform="translate(53.2 354.35) scale(1 1.13)" dominant-baseline="central">0.75</text>
<text x="0" y="0" font-size="7.9" text-anchor="end" fill="#1a1a1a" font-weight="normal" stroke="#1a1a1a" stroke-width="0.1" transform="translate(53.2 390.45) scale(1 1.13)" dominant-baseline="central">0.50</text>
<text x="0" y="0" font-size="7.9" text-anchor="end" fill="#1a1a1a" font-weight="normal" stroke="#1a1a1a" stroke-width="0.1" transform="translate(53.2 426.55) scale(1 1.13)" dominant-baseline="central">0.25</text>
<text x="0" y="0" font-size="7.9" text-anchor="end" fill="#1a1a1a" font-weight="normal" stroke="#1a1a1a" stroke-width="0.1" transform="translate(53.2 462.65) scale(1 1.13)" dominant-baseline="central">0.00</text>
<text x="0" y="0" font-size="7.9" text-anchor="middle" fill="#1a1a1a" font-weight="normal" stroke="#1a1a1a" stroke-width="0.1" transform="translate(67.5 479.34999999999997) scale(1 1.13)" dominant-baseline="central">0</text>
<text x="0" y="0" font-size="7.9" text-anchor="middle" fill="#1a1a1a" font-weight="normal" stroke="#1a1a1a" stroke-width="0.1" transform="translate(99.8 479.34999999999997) scale(1 1.13)" dominant-baseline="central">30</text>
<text x="0" y="0" font-size="7.9" text-anchor="middle" fill="#1a1a1a" font-weight="normal" stroke="#1a1a1a" stroke-width="0.1" transform="translate(132.1 479.34999999999997) scale(1 1.13)" dominant-baseline="central">60</text>
<text x="0" y="0" font-size="7.9" text-anchor="middle" fill="#1a1a1a" font-weight="normal" stroke="#1a1a1a" stroke-width="0.1" transform="translate(164.4 479.34999999999997) scale(1 1.13)" dominant-baseline="central">90</text>
<text x="0" y="0" font-size="7.9" text-anchor="middle" fill="#1a1a1a" font-weight="normal" stroke="#1a1a1a" stroke-width="0.1" transform="translate(196.7 479.34999999999997) scale(1 1.13)" dominant-baseline="central">120</text>
<text x="0" y="0" font-size="7.9" text-anchor="middle" fill="#1a1a1a" font-weight="normal" stroke="#1a1a1a" stroke-width="0.1" transform="translate(229.0 479.34999999999997) scale(1 1.13)" dominant-baseline="central">150</text>
<path d="M56.5,318.75H59.5M56.5,354.85H59.5M56.5,390.95H59.5M56.5,427.05H59.5M56.5,463.15H59.5M67.50,470.65v3M99.80,470.65v3M132.10,470.65v3M164.40,470.65v3M196.70,470.65v3M229.00,470.65v3" fill="none" stroke="#000" stroke-width="1.1"/>
<text x="153.6" y="491.25" font-size="9.5" text-anchor="middle" fill="#1a1a1a" font-weight="normal" stroke="#1a1a1a" stroke-width="0.4" textLength="43" lengthAdjust="spacingAndGlyphs" dominant-baseline="central">Time in months</text>
<text x="29.0" y="391.25" font-size="10.2" text-anchor="middle" fill="#1a1a1a" font-weight="normal" stroke="#1a1a1a" stroke-width="0.4" textLength="64" lengthAdjust="spacingAndGlyphs" transform="rotate(-90 29.0 391.25)" dominant-baseline="central">Time to next treatment</text>
<text x="0" y="0" font-size="6.75" text-anchor="start" fill="#1a1a1a" font-weight="normal" stroke="#1a1a1a" stroke-width="0.1" transform="translate(92.1 303.1) scale(1 1.13)" dominant-baseline="central">Strata</text>
<path d="M113.41,303.1h8.4M117.61,301.0v4.2" stroke="#C8102E" stroke-width="1.4" fill="none"/>
<text x="0" y="0" font-size="6.75" text-anchor="start" fill="#1a1a1a" font-weight="normal" stroke="#1a1a1a" stroke-width="0.1" transform="translate(124.61 303.1) scale(1 1.13)" dominant-baseline="central">PET negative</text>
<path d="M168.31,303.1h8.4M172.51,301.0v4.2" stroke="#1F5B8E" stroke-width="1.4" fill="none"/>
<text x="0" y="0" font-size="6.75" text-anchor="start" fill="#1a1a1a" font-weight="normal" stroke="#1a1a1a" stroke-width="0.1" transform="translate(179.51 303.1) scale(1 1.13)" dominant-baseline="central">PET positive</text>
<path d="M68.30,318.55 L78.50,318.55 L78.50,321.75 L79.50,321.75 L79.50,325.15 L81.40,325.15 L81.40,327.15 L85.50,327.15 L85.50,333.75 L86.90,333.75 L86.90,339.85 L90.00,339.85 L90.00,343.25 L91.00,343.25 L91.00,346.45 L91.80,346.45 L91.80,351.75 L96.10,351.75 L96.10,357.25 L97.50,357.25 L97.50,363.25 L98.60,363.25 L98.60,368.75 L99.50,368.75 L99.50,372.05 L103.40,372.05 L103.40,374.95 L108.70,374.95 L108.70,379.45 L111.00,379.45 L111.00,383.15 L112.00,383.15 L112.00,386.05 L118.30,386.05 L118.30,390.05 L127.00,390.05 L127.00,394.25 L129.00,394.25 L129.00,398.45 L130.70,398.45 L130.70,404.25 L137.40,404.25 L137.40,410.35 L152.90,410.35 L152.90,415.05 L160.30,415.05 L160.30,422.45 L182.70,422.45 L182.70,432.85 L244.80,432.85" fill="none" stroke="#C8102E" stroke-width="1.6" stroke-linejoin="miter" stroke-miterlimit="2"/>
<path d="M73.00,316.25v4.6M71.40,318.55h3.2M75.40,316.25v4.6M73.80,318.55h3.2M80.50,322.85v4.6M78.90,325.15h3.2M90.50,340.95v4.6M88.90,343.25h3.2M97.00,354.95v4.6M95.40,357.25h3.2M108.50,372.65v4.6M106.90,374.95h3.2M121.00,387.75v4.6M119.40,390.05h3.2M137.00,401.95v4.6M135.40,404.25h3.2M147.50,408.05v4.6M145.90,410.35h3.2M160.00,412.75v4.6M158.40,415.05h3.2M173.00,420.15v4.6M171.40,422.45h3.2M177.00,420.15v4.6M175.40,422.45h3.2M193.30,430.55v4.6M191.70,432.85h3.2M209.60,430.55v4.6M208.00,432.85h3.2M244.80,430.55v4.6M243.20,432.85h3.2" fill="none" stroke="#C8102E" stroke-width="1.1"/>
<path d="M68.50,318.70 L70.60,318.70 L70.75,318.70 L70.75,321.08 L70.90,321.08 L70.90,323.47 L71.05,323.47 L71.05,325.85 L71.20,325.85 L71.20,328.23 L71.35,328.23 L71.35,330.62 L71.50,330.62 L71.50,333.00 L72.08,333.00 L72.08,335.32 L72.66,335.32 L72.66,337.64 L73.24,337.64 L73.24,339.96 L73.82,339.96 L73.82,342.28 L74.40,342.28 L74.40,344.60 L74.67,344.60 L74.67,347.09 L74.94,347.09 L74.94,349.57 L75.21,349.57 L75.21,352.06 L75.49,352.06 L75.49,354.54 L75.76,354.54 L75.76,357.03 L76.03,357.03 L76.03,359.51 L76.30,359.51 L76.30,362.00 L76.88,362.00 L76.88,364.30 L77.46,364.30 L77.46,366.60 L78.04,366.60 L78.04,368.90 L78.62,368.90 L78.62,371.20 L79.20,371.20 L79.20,373.50 L79.90,373.50 L79.90,375.62 L80.60,375.62 L80.60,377.75 L81.30,377.75 L81.30,379.88 L82.00,379.88 L82.00,382.00 L83.22,382.00 L83.22,384.25 L84.45,384.25 L84.45,386.50 L85.68,386.50 L85.68,388.75 L86.90,388.75 L86.90,391.00 L88.18,391.00 L88.18,393.33 L89.47,393.33 L89.47,395.67 L90.75,395.67 L90.75,398.00 L92.03,398.00 L92.03,400.33 L93.32,400.33 L93.32,402.67 L94.60,402.67 L94.60,405.00 L95.57,405.00 L95.57,407.57 L96.53,407.57 L96.53,410.13 L97.50,410.13 L97.50,412.70 L98.77,412.70 L98.77,415.27 L100.03,415.27 L100.03,417.83 L101.30,417.83 L101.30,420.40 L108.00,420.40 L108.00,423.30 L119.60,423.30 L119.60,426.00 L123.45,426.00 L123.45,428.50 L127.30,428.50 L127.30,431.00 L130.15,431.00 L130.15,433.85 L133.00,433.85 L133.00,436.70 L137.90,436.70 L137.90,438.70 L158.50,438.70 L158.50,448.30 L241.60,448.30" fill="none" stroke="#1F5B8E" stroke-width="1.6" stroke-linejoin="miter" stroke-miterlimit="2"/>
<path d="M70.50,316.40v4.6M68.90,318.70h3.2M71.50,330.70v4.6M69.90,333.00h3.2M77.00,362.00v4.6M75.40,364.30h3.2M84.00,381.95v4.6M82.40,384.25h3.2M90.00,393.37v4.6M88.40,395.67h3.2M95.00,402.70v4.6M93.40,405.00h3.2M101.00,415.53v4.6M99.40,417.83h3.2M108.50,421.00v4.6M106.90,423.30h3.2M112.00,421.00v4.6M110.40,423.30h3.2M114.00,421.00v4.6M112.40,423.30h3.2M116.00,421.00v4.6M114.40,423.30h3.2M120.00,423.70v4.6M118.40,426.00h3.2M125.00,426.20v4.6M123.40,428.50h3.2M127.50,428.70v4.6M125.90,431.00h3.2M131.00,431.55v4.6M129.40,433.85h3.2M132.00,431.55v4.6M130.40,433.85h3.2M134.50,434.40v4.6M132.90,436.70h3.2M145.00,436.40v4.6M143.40,438.70h3.2M147.00,436.40v4.6M145.40,438.70h3.2M155.80,436.40v4.6M154.20,438.70h3.2M180.70,446.00v4.6M179.10,448.30h3.2M195.00,446.00v4.6M193.40,448.30h3.2M241.60,446.00v4.6M240.00,448.30h3.2" fill="none" stroke="#1F5B8E" stroke-width="1.1"/>
<text x="0" y="0" font-size="7.45" text-anchor="middle" fill="#1a1a1a" font-weight="normal" stroke="#1a1a1a" stroke-width="0.1" transform="translate(212.8 461) scale(1 1.13)" dominant-baseline="central">p &lt; .0001</text>
<text x="0" y="0" font-size="7.4" text-anchor="start" fill="#1a1a1a" font-weight="normal" stroke="#1a1a1a" stroke-width="0.1" transform="translate(60.0 504.55) scale(1 1.13)" dominant-baseline="central">Number at risk</text>
<text x="53.1" y="515.95" font-size="7.7" text-anchor="end" fill="#C8102E" font-weight="normal" stroke="#C8102E" stroke-width="0.22" textLength="30.3" lengthAdjust="spacingAndGlyphs" dominant-baseline="central">PET negative</text>
<text x="0" y="0" font-size="8.0" text-anchor="middle" fill="#C8102E" font-weight="normal" stroke="#C8102E" stroke-width="0.1" transform="translate(67.5 515.75) scale(1 1.13)" dominant-baseline="central">50</text>
<text x="0" y="0" font-size="8.0" text-anchor="middle" fill="#C8102E" font-weight="normal" stroke="#C8102E" stroke-width="0.1" transform="translate(99.8 515.75) scale(1 1.13)" dominant-baseline="central">27</text>
<text x="0" y="0" font-size="8.0" text-anchor="middle" fill="#C8102E" font-weight="normal" stroke="#C8102E" stroke-width="0.1" transform="translate(132.1 515.75) scale(1 1.13)" dominant-baseline="central">15</text>
<text x="0" y="0" font-size="8.0" text-anchor="middle" fill="#C8102E" font-weight="normal" stroke="#C8102E" stroke-width="0.1" transform="translate(164.4 515.75) scale(1 1.13)" dominant-baseline="central">6</text>
<text x="0" y="0" font-size="8.0" text-anchor="middle" fill="#C8102E" font-weight="normal" stroke="#C8102E" stroke-width="0.1" transform="translate(196.7 515.75) scale(1 1.13)" dominant-baseline="central">2</text>
<text x="0" y="0" font-size="8.0" text-anchor="middle" fill="#C8102E" font-weight="normal" stroke="#C8102E" stroke-width="0.1" transform="translate(229.0 515.75) scale(1 1.13)" dominant-baseline="central">1</text>
<text x="53.1" y="526.7" font-size="7.7" text-anchor="end" fill="#1F5B8E" font-weight="normal" stroke="#1F5B8E" stroke-width="0.22" textLength="28.4" lengthAdjust="spacingAndGlyphs" dominant-baseline="central">PET positive</text>
<text x="0" y="0" font-size="8.0" text-anchor="middle" fill="#1F5B8E" font-weight="normal" stroke="#1F5B8E" stroke-width="0.1" transform="translate(67.5 526.5) scale(1 1.13)" dominant-baseline="central">145</text>
<text x="0" y="0" font-size="8.0" text-anchor="middle" fill="#1F5B8E" font-weight="normal" stroke="#1F5B8E" stroke-width="0.1" transform="translate(99.8 526.5) scale(1 1.13)" dominant-baseline="central">41</text>
<text x="0" y="0" font-size="8.0" text-anchor="middle" fill="#1F5B8E" font-weight="normal" stroke="#1F5B8E" stroke-width="0.1" transform="translate(132.1 526.5) scale(1 1.13)" dominant-baseline="central">14</text>
<text x="0" y="0" font-size="8.0" text-anchor="middle" fill="#1F5B8E" font-weight="normal" stroke="#1F5B8E" stroke-width="0.1" transform="translate(164.4 526.5) scale(1 1.13)" dominant-baseline="central">3</text>
<text x="0" y="0" font-size="8.0" text-anchor="middle" fill="#1F5B8E" font-weight="normal" stroke="#1F5B8E" stroke-width="0.1" transform="translate(196.7 526.5) scale(1 1.13)" dominant-baseline="central">1</text>
<text x="0" y="0" font-size="8.0" text-anchor="middle" fill="#1F5B8E" font-weight="normal" stroke="#1F5B8E" stroke-width="0.1" transform="translate(229.0 526.5) scale(1 1.13)" dominant-baseline="central">1</text>
<text x="0" y="0" font-size="7.9" text-anchor="middle" fill="#1a1a1a" font-weight="normal" stroke="#1a1a1a" stroke-width="0.1" transform="translate(67.5 542.2) scale(1 1.13)" dominant-baseline="central">0</text>
<text x="0" y="0" font-size="7.9" text-anchor="middle" fill="#1a1a1a" font-weight="normal" stroke="#1a1a1a" stroke-width="0.1" transform="translate(99.8 542.2) scale(1 1.13)" dominant-baseline="central">30</text>
<text x="0" y="0" font-size="7.9" text-anchor="middle" fill="#1a1a1a" font-weight="normal" stroke="#1a1a1a" stroke-width="0.1" transform="translate(132.1 542.2) scale(1 1.13)" dominant-baseline="central">60</text>
<text x="0" y="0" font-size="7.9" text-anchor="middle" fill="#1a1a1a" font-weight="normal" stroke="#1a1a1a" stroke-width="0.1" transform="translate(164.4 542.2) scale(1 1.13)" dominant-baseline="central">90</text>
<text x="0" y="0" font-size="7.9" text-anchor="middle" fill="#1a1a1a" font-weight="normal" stroke="#1a1a1a" stroke-width="0.1" transform="translate(196.7 542.2) scale(1 1.13)" dominant-baseline="central">120</text>
<text x="0" y="0" font-size="7.9" text-anchor="middle" fill="#1a1a1a" font-weight="normal" stroke="#1a1a1a" stroke-width="0.1" transform="translate(229.0 542.2) scale(1 1.13)" dominant-baseline="central">150</text>
<path d="M59.4,510.15V533.5H247.9" fill="none" stroke="#1a1a1a" stroke-width="1.3"/>
<path d="M56.4,516.25H59.4M56.4,527.0H59.4M67.50,533.5v3M99.80,533.5v3M132.10,533.5v3M164.40,533.5v3M196.70,533.5v3M229.00,533.5v3" fill="none" stroke="#000" stroke-width="1.1"/>
<text x="153.65" y="554.5" font-size="9.5" text-anchor="middle" fill="#1a1a1a" font-weight="normal" stroke="#1a1a1a" stroke-width="0.4" textLength="43" lengthAdjust="spacingAndGlyphs" dominant-baseline="central">Time in months</text>
<text x="15.7" y="522.125" font-size="9.9" text-anchor="middle" fill="#1a1a1a" font-weight="normal" stroke="#1a1a1a" stroke-width="0.45" textLength="16.7" lengthAdjust="spacingAndGlyphs" transform="rotate(-90 15.7 522.125)" dominant-baseline="central">Strata</text>
<path d="M332.3,390.8H398.6M398.6,390.8V462.6" fill="none" stroke="#222" stroke-width="1" stroke-dasharray="2,2.2"/>
<path d="M325.0,310.75V470.55H513.7" fill="none" stroke="#1a1a1a" stroke-width="1.3"/>
<text x="0" y="0" font-size="7.9" text-anchor="end" fill="#1a1a1a" font-weight="normal" stroke="#1a1a1a" stroke-width="0.1" transform="translate(318.7 318.25) scale(1 1.13)" dominant-baseline="central">1.00</text>
<text x="0" y="0" font-size="7.9" text-anchor="end" fill="#1a1a1a" font-weight="normal" stroke="#1a1a1a" stroke-width="0.1" transform="translate(318.7 354.35) scale(1 1.13)" dominant-baseline="central">0.75</text>
<text x="0" y="0" font-size="7.9" text-anchor="end" fill="#1a1a1a" font-weight="normal" stroke="#1a1a1a" stroke-width="0.1" transform="translate(318.7 390.45) scale(1 1.13)" dominant-baseline="central">0.50</text>
<text x="0" y="0" font-size="7.9" text-anchor="end" fill="#1a1a1a" font-weight="normal" stroke="#1a1a1a" stroke-width="0.1" transform="translate(318.7 426.55) scale(1 1.13)" dominant-baseline="central">0.25</text>
<text x="0" y="0" font-size="7.9" text-anchor="end" fill="#1a1a1a" font-weight="normal" stroke="#1a1a1a" stroke-width="0.1" transform="translate(318.7 462.65) scale(1 1.13)" dominant-baseline="central">0.00</text>
<text x="0" y="0" font-size="7.9" text-anchor="middle" fill="#1a1a1a" font-weight="normal" stroke="#1a1a1a" stroke-width="0.1" transform="translate(332.8 479.25) scale(1 1.13)" dominant-baseline="central">0</text>
<text x="0" y="0" font-size="7.9" text-anchor="middle" fill="#1a1a1a" font-weight="normal" stroke="#1a1a1a" stroke-width="0.1" transform="translate(375.9 479.25) scale(1 1.13)" dominant-baseline="central">40</text>
<text x="0" y="0" font-size="7.9" text-anchor="middle" fill="#1a1a1a" font-weight="normal" stroke="#1a1a1a" stroke-width="0.1" transform="translate(419.0 479.25) scale(1 1.13)" dominant-baseline="central">80</text>
<text x="0" y="0" font-size="7.9" text-anchor="middle" fill="#1a1a1a" font-weight="normal" stroke="#1a1a1a" stroke-width="0.1" transform="translate(462.1 479.25) scale(1 1.13)" dominant-baseline="central">120</text>
<text x="0" y="0" font-size="7.9" text-anchor="middle" fill="#1a1a1a" font-weight="normal" stroke="#1a1a1a" stroke-width="0.1" transform="translate(505.2 479.25) scale(1 1.13)" dominant-baseline="central">160</text>
<path d="M322.0,318.75H325.0M322.0,354.85H325.0M322.0,390.95H325.0M322.0,427.05H325.0M322.0,463.15H325.0M332.80,470.55v3M375.90,470.55v3M419.00,470.55v3M462.10,470.55v3M505.20,470.55v3" fill="none" stroke="#000" stroke-width="1.1"/>
<text x="419.35" y="491.25" font-size="9.5" text-anchor="middle" fill="#1a1a1a" font-weight="normal" stroke="#1a1a1a" stroke-width="0.4" textLength="43" lengthAdjust="spacingAndGlyphs" dominant-baseline="central">Time in months</text>
<text x="294.5" y="391.25" font-size="10.2" text-anchor="middle" fill="#1a1a1a" font-weight="normal" stroke="#1a1a1a" stroke-width="0.4" textLength="21.7" lengthAdjust="spacingAndGlyphs" transform="rotate(-90 294.5 391.25)" dominant-baseline="central">Survival</text>
<text x="0" y="0" font-size="6.75" text-anchor="start" fill="#1a1a1a" font-weight="normal" stroke="#1a1a1a" stroke-width="0.1" transform="translate(357.2 303.1) scale(1 1.13)" dominant-baseline="central">Strata</text>
<path d="M378.51,303.1h8.4M382.71,301.0v4.2" stroke="#C8102E" stroke-width="1.4" fill="none"/>
<text x="0" y="0" font-size="6.75" text-anchor="start" fill="#1a1a1a" font-weight="normal" stroke="#1a1a1a" stroke-width="0.1" transform="translate(389.71 303.1) scale(1 1.13)" dominant-baseline="central">PET negative</text>
<path d="M433.41,303.1h8.4M437.61,301.0v4.2" stroke="#1F5B8E" stroke-width="1.4" fill="none"/>
<text x="0" y="0" font-size="6.75" text-anchor="start" fill="#1a1a1a" font-weight="normal" stroke="#1a1a1a" stroke-width="0.1" transform="translate(444.61 303.1) scale(1 1.13)" dominant-baseline="central">PET positive</text>
<path d="M333.00,318.35 L353.80,318.35 L353.80,321.75 L355.80,321.75 L355.80,327.55 L363.50,327.55 L363.50,334.25 L380.80,334.25 L380.80,338.15 L410.00,338.15 L410.00,342.75 L418.30,342.75 L418.30,348.75 L448.00,348.75 L448.00,352.75 L450.50,352.75 L450.50,355.75 L454.00,355.75 L454.00,366.25 L475.00,366.25 L475.00,379.65 L511.30,379.65" fill="none" stroke="#C8102E" stroke-width="1.6" stroke-linejoin="miter" stroke-miterlimit="2"/>
<path d="M338.00,316.05v4.6M336.40,318.35h3.2M343.00,316.05v4.6M341.40,318.35h3.2M358.00,325.25v4.6M356.40,327.55h3.2M365.00,331.95v4.6M363.40,334.25h3.2M368.00,331.95v4.6M366.40,334.25h3.2M372.00,331.95v4.6M370.40,334.25h3.2M375.00,331.95v4.6M373.40,334.25h3.2M378.00,331.95v4.6M376.40,334.25h3.2M387.00,335.85v4.6M385.40,338.15h3.2M404.00,335.85v4.6M402.40,338.15h3.2M407.00,335.85v4.6M405.40,338.15h3.2M420.00,346.45v4.6M418.40,348.75h3.2M425.00,346.45v4.6M423.40,348.75h3.2M428.00,346.45v4.6M426.40,348.75h3.2M434.00,346.45v4.6M432.40,348.75h3.2M441.00,346.45v4.6M439.40,348.75h3.2M449.50,350.45v4.6M447.90,352.75h3.2M459.00,363.95v4.6M457.40,366.25h3.2M466.00,363.95v4.6M464.40,366.25h3.2M482.00,377.35v4.6M480.40,379.65h3.2M490.00,377.35v4.6M488.40,379.65h3.2M495.00,377.35v4.6M493.40,379.65h3.2M511.30,377.35v4.6M509.70,379.65h3.2" fill="none" stroke="#C8102E" stroke-width="1.1"/>
<path d="M333.00,318.70 L338.50,318.70 L340.40,318.70 L340.40,321.50 L345.20,321.50 L345.20,324.40 L345.70,324.40 L345.70,326.80 L346.20,326.80 L346.20,329.20 L348.10,329.20 L348.10,331.47 L350.00,331.47 L350.00,333.73 L351.90,333.73 L351.90,336.00 L353.85,336.00 L353.85,338.40 L355.80,338.40 L355.80,340.80 L357.27,340.80 L357.27,343.30 L358.75,343.30 L358.75,345.80 L360.23,345.80 L360.23,348.30 L361.70,348.30 L361.70,350.80 L363.75,350.80 L363.75,353.80 L365.80,353.80 L365.80,356.80 L370.50,356.80 L370.85,356.80 L370.85,359.15 L371.20,359.15 L371.20,361.50 L372.20,361.50 L372.20,364.20 L373.20,364.20 L373.20,366.90 L375.55,366.90 L375.55,369.25 L377.90,369.25 L377.90,371.60 L379.92,371.60 L379.92,373.80 L381.95,373.80 L381.95,376.00 L383.98,376.00 L383.98,378.20 L386.00,378.20 L386.00,380.40 L388.00,380.40 L388.00,383.70 L392.00,383.70 L394.03,383.70 L394.03,386.17 L396.07,386.17 L396.07,388.63 L398.10,388.63 L398.10,391.10 L399.20,391.10 L399.20,393.37 L400.30,393.37 L400.30,395.63 L401.40,395.63 L401.40,397.90 L404.80,397.90 L404.80,400.60 L408.80,400.60 L408.80,401.20 L409.85,401.20 L409.85,403.60 L410.90,403.60 L410.90,406.00 L418.90,406.00 L418.90,408.50 L427.10,408.50 L427.10,409.80 L428.50,409.80 L428.50,413.00 L439.20,413.00 L439.20,416.50 L444.60,416.50 L444.60,419.80 L460.80,419.80 L460.80,423.80 L463.50,423.80 L463.50,425.85 L466.20,425.85 L466.20,427.90 L480.50,427.90 L480.50,428.50 L480.50,436.00 L481.25,436.00 L481.25,438.40 L482.00,438.40 L482.00,440.80 L508.70,440.80" fill="none" stroke="#1F5B8E" stroke-width="1.6" stroke-linejoin="miter" stroke-miterlimit="2"/>
<path d="M341.00,319.20v4.6M339.40,321.50h3.2M350.00,331.43v4.6M348.40,333.73h3.2M354.00,336.10v4.6M352.40,338.40h3.2M357.00,338.50v4.6M355.40,340.80h3.2M360.00,343.50v4.6M358.40,345.80h3.2M363.00,348.50v4.6M361.40,350.80h3.2M365.00,351.50v4.6M363.40,353.80h3.2M369.00,354.50v4.6M367.40,356.80h3.2M374.00,364.60v4.6M372.40,366.90h3.2M377.00,366.95v4.6M375.40,369.25h3.2M383.00,373.70v4.6M381.40,376.00h3.2M389.00,381.40v4.6M387.40,383.70h3.2M394.00,381.40v4.6M392.40,383.70h3.2M397.00,386.33v4.6M395.40,388.63h3.2M404.00,395.60v4.6M402.40,397.90h3.2M408.00,398.30v4.6M406.40,400.60h3.2M413.00,403.70v4.6M411.40,406.00h3.2M415.00,403.70v4.6M413.40,406.00h3.2M418.00,403.70v4.6M416.40,406.00h3.2M423.00,406.20v4.6M421.40,408.50h3.2M432.00,410.70v4.6M430.40,413.00h3.2M447.00,417.50v4.6M445.40,419.80h3.2M453.00,417.50v4.6M451.40,419.80h3.2M456.00,417.50v4.6M454.40,419.80h3.2M462.00,421.50v4.6M460.40,423.80h3.2M480.50,433.70v4.6M478.90,436.00h3.2M484.60,438.50v4.6M483.00,440.80h3.2M489.00,438.50v4.6M487.40,440.80h3.2M493.50,438.50v4.6M491.90,440.80h3.2M508.50,438.50v4.6M506.90,440.80h3.2" fill="none" stroke="#1F5B8E" stroke-width="1.1"/>
<text x="0" y="0" font-size="7.45" text-anchor="middle" fill="#1a1a1a" font-weight="normal" stroke="#1a1a1a" stroke-width="0.1" transform="translate(355 461.2) scale(1 1.13)" dominant-baseline="central">p &lt; .0001</text>
<text x="0" y="0" font-size="7.4" text-anchor="start" fill="#1a1a1a" font-weight="normal" stroke="#1a1a1a" stroke-width="0.1" transform="translate(325.40000000000003 504.55) scale(1 1.13)" dominant-baseline="central">Number at risk</text>
<text x="318.3" y="515.95" font-size="7.7" text-anchor="end" fill="#C8102E" font-weight="normal" stroke="#C8102E" stroke-width="0.22" textLength="30.3" lengthAdjust="spacingAndGlyphs" dominant-baseline="central">PET negative</text>
<text x="0" y="0" font-size="8.0" text-anchor="middle" fill="#C8102E" font-weight="normal" stroke="#C8102E" stroke-width="0.1" transform="translate(332.8 515.75) scale(1 1.13)" dominant-baseline="central">50</text>
<text x="0" y="0" font-size="8.0" text-anchor="middle" fill="#C8102E" font-weight="normal" stroke="#C8102E" stroke-width="0.1" transform="translate(375.9 515.75) scale(1 1.13)" dominant-baseline="central">34</text>
<text x="0" y="0" font-size="8.0" text-anchor="middle" fill="#C8102E" font-weight="normal" stroke="#C8102E" stroke-width="0.1" transform="translate(419.0 515.75) scale(1 1.13)" dominant-baseline="central">21</text>
<text x="0" y="0" font-size="8.0" text-anchor="middle" fill="#C8102E" font-weight="normal" stroke="#C8102E" stroke-width="0.1" transform="translate(462.1 515.75) scale(1 1.13)" dominant-baseline="central">8</text>
<text x="0" y="0" font-size="8.0" text-anchor="middle" fill="#C8102E" font-weight="normal" stroke="#C8102E" stroke-width="0.1" transform="translate(505.2 515.75) scale(1 1.13)" dominant-baseline="central">1</text>
<text x="318.3" y="526.7" font-size="7.7" text-anchor="end" fill="#1F5B8E" font-weight="normal" stroke="#1F5B8E" stroke-width="0.22" textLength="28.4" lengthAdjust="spacingAndGlyphs" dominant-baseline="central">PET positive</text>
<text x="0" y="0" font-size="8.0" text-anchor="middle" fill="#1F5B8E" font-weight="normal" stroke="#1F5B8E" stroke-width="0.1" transform="translate(332.8 526.5) scale(1 1.13)" dominant-baseline="central">145</text>
<text x="0" y="0" font-size="8.0" text-anchor="middle" fill="#1F5B8E" font-weight="normal" stroke="#1F5B8E" stroke-width="0.1" transform="translate(375.9 526.5) scale(1 1.13)" dominant-baseline="central">83</text>
<text x="0" y="0" font-size="8.0" text-anchor="middle" fill="#1F5B8E" font-weight="normal" stroke="#1F5B8E" stroke-width="0.1" transform="translate(419.0 526.5) scale(1 1.13)" dominant-baseline="central">28</text>
<text x="0" y="0" font-size="8.0" text-anchor="middle" fill="#1F5B8E" font-weight="normal" stroke="#1F5B8E" stroke-width="0.1" transform="translate(462.1 526.5) scale(1 1.13)" dominant-baseline="central">8</text>
<text x="0" y="0" font-size="8.0" text-anchor="middle" fill="#1F5B8E" font-weight="normal" stroke="#1F5B8E" stroke-width="0.1" transform="translate(505.2 526.5) scale(1 1.13)" dominant-baseline="central">1</text>
<text x="0" y="0" font-size="7.9" text-anchor="middle" fill="#1a1a1a" font-weight="normal" stroke="#1a1a1a" stroke-width="0.1" transform="translate(332.8 542.2) scale(1 1.13)" dominant-baseline="central">0</text>
<text x="0" y="0" font-size="7.9" text-anchor="middle" fill="#1a1a1a" font-weight="normal" stroke="#1a1a1a" stroke-width="0.1" transform="translate(375.9 542.2) scale(1 1.13)" dominant-baseline="central">40</text>
<text x="0" y="0" font-size="7.9" text-anchor="middle" fill="#1a1a1a" font-weight="normal" stroke="#1a1a1a" stroke-width="0.1" transform="translate(419.0 542.2) scale(1 1.13)" dominant-baseline="central">80</text>
<text x="0" y="0" font-size="7.9" text-anchor="middle" fill="#1a1a1a" font-weight="normal" stroke="#1a1a1a" stroke-width="0.1" transform="translate(462.1 542.2) scale(1 1.13)" dominant-baseline="central">120</text>
<text x="0" y="0" font-size="7.9" text-anchor="middle" fill="#1a1a1a" font-weight="normal" stroke="#1a1a1a" stroke-width="0.1" transform="translate(505.2 542.2) scale(1 1.13)" dominant-baseline="central">160</text>
<path d="M324.8,510.15V533.5H513.3" fill="none" stroke="#1a1a1a" stroke-width="1.3"/>
<path d="M321.8,516.25H324.8M321.8,527.0H324.8M332.80,533.5v3M375.90,533.5v3M419.00,533.5v3M462.10,533.5v3M505.20,533.5v3" fill="none" stroke="#000" stroke-width="1.1"/>
<text x="419.05" y="554.5" font-size="9.5" text-anchor="middle" fill="#1a1a1a" font-weight="normal" stroke="#1a1a1a" stroke-width="0.4" textLength="43" lengthAdjust="spacingAndGlyphs" dominant-baseline="central">Time in months</text>
<text x="281.2" y="522.125" font-size="9.9" text-anchor="middle" fill="#1a1a1a" font-weight="normal" stroke="#1a1a1a" stroke-width="0.45" textLength="16.7" lengthAdjust="spacingAndGlyphs" transform="rotate(-90 281.2 522.125)" dominant-baseline="central">Strata</text>
<rect x="0.6" y="0.6" width="518.6" height="563.6" fill="none" stroke="#000" stroke-width="1.3"/>
</svg></body></html>
